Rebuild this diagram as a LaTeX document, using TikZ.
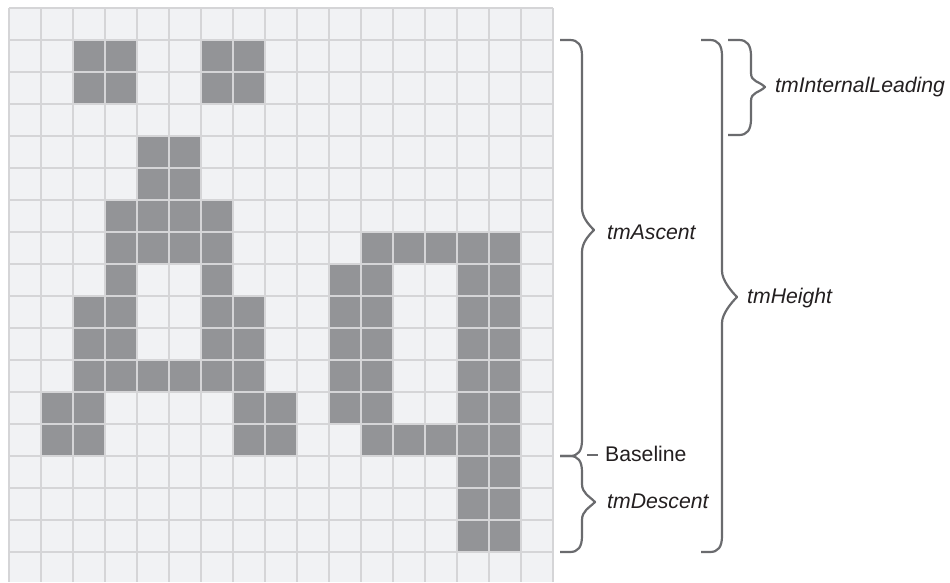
\documentclass[tikz,border=0pt]{standalone}
\usepackage{fontspec}
\setmainfont{Liberation Sans}
\definecolor{cellbg}{HTML}{F1F2F4}
\definecolor{gridc}{HTML}{D5D5D7}
\definecolor{darkc}{HTML}{939497}
\definecolor{bracec}{HTML}{6A6B6E}
\definecolor{textc}{HTML}{231F20}
\newcommand\bracepath[7]{%
\draw[bracestyle] (#1,#4) -- ({#2-12},#4) .. controls ({#2-4},#4) and (#2,{#4+5}) .. (#2,{#4+16})
 -- (#2,{#6-#7}) .. controls (#2,{#6-#7+9}) and ({#3-6},{#6-6}) .. (#3,#6)
 .. controls ({#3-6},{#6+6}) and (#2,{#6+#7-9}) .. (#2,{#6+#7})
 -- (#2,{#5-16}) .. controls (#2,{#5-5}) and ({#2-4},#5) .. ({#2-12},#5) -- (#1,#5);}
\tikzset{
  bracestyle/.style={draw=bracec, line width=2.2pt, line join=round, line cap=butt},
  gridline/.style={draw=gridc, line width=1.4pt},
  lbl/.style={anchor=west, inner sep=0pt, text=textc, font=\fontsize{21.2}{25}\selectfont},
}
\begin{document}
\begin{tikzpicture}[x=1pt,y=-1pt]
\useasboundingbox (0,0) rectangle (950,582);
\fill[white] (0,0) rectangle (950,582);
% grid background
\fill[cellbg] (9,8) rectangle (553,582);
% dark cells
\foreach \r/\cols in {1/{2,3,6,7}, 2/{2,3,6,7}, 4/{4,5}, 5/{4,5}, 6/{3,4,5,6},
  7/{3,4,5,6,11,12,13,14,15}, 8/{3,6,10,11,14,15}, 9/{2,3,6,7,10,11,14,15},
  10/{2,3,6,7,10,11,14,15}, 11/{2,3,4,5,6,7,10,11,14,15}, 12/{1,2,7,8,10,11,14,15},
  13/{1,2,7,8,11,12,13,14,15}, 14/{14,15}, 15/{14,15}, 16/{14,15}}{
  \foreach \c in \cols {
    \fill[darkc] ({9+32*\c},{8+32*\r}) rectangle ++(32,32);
  }
}
% grid lines
\foreach \i in {0,...,17} \draw[gridline] ({9+32*\i},8) -- ({9+32*\i},582);
\foreach \j in {0,...,17} \draw[gridline] (9,{8+32*\j}) -- (553,{8+32*\j});
% braces
\bracepath{560}{582}{594}{40}{456}{230}{22}
\bracepath{560}{582}{595}{456}{552}{502}{18}
\bracepath{701}{722}{737}{40}{552}{297}{26}
\bracepath{728}{751}{765}{40}{135}{87}{14}
% baseline tick
\coordinate (bt1) at (587,455);
\coordinate (bt2) at (598,455);
\draw[bracestyle] (bt1) -- (bt2);
% labels
\node[lbl] (asc) at (607,232) {\itshape tmAscent};
\node[lbl] (hgt) at (747,298) {\itshape tmHeight};
\node[lbl] (base) at (605,454) {Baseline};
\node[lbl] (desc) at (607,501) {\itshape tmDescent};
\node[lbl] (intl) at (775,87) {\itshape tmInternalLeading};
\end{tikzpicture}
\end{document}
